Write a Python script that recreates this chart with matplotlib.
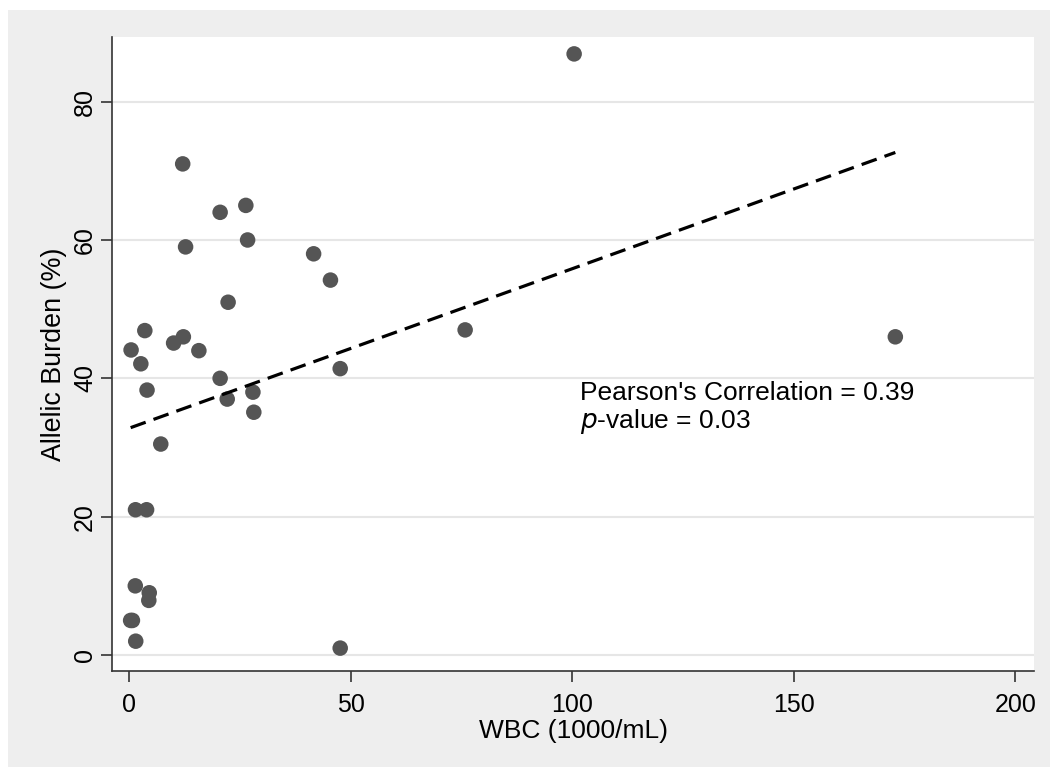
import matplotlib
matplotlib.use("Agg")
import matplotlib.pyplot as plt
from matplotlib.patches import Rectangle
import numpy as np

plt.rcParams['font.family'] = ['Liberation Sans', 'DejaVu Sans']

# Data
wbc = [0.4, 3.5, 2.6, 4.0, 10.0, 12.2, 15.7, 20.5, 22.1, 27.9, 28.1, 47.6,
       7.1, 1.4, 3.9, 1.35, 4.5, 4.4, 0.3, 0.7, 1.45, 47.6, 22.3, 12.05,
       26.3, 20.5, 12.7, 26.7, 41.6, 45.4, 75.8, 100.4, 172.9]
burden = [44.1, 46.9, 42.1, 38.3, 45.1, 46.0, 44.0, 40.0, 37.0, 38.0, 35.1, 41.4,
          30.5, 21.0, 21.0, 10.0, 9.0, 7.9, 5.0, 5.0, 2.0, 1.0, 51.0, 71.0,
          65.0, 64.0, 59.0, 60.0, 58.0, 54.2, 47.0, 86.9, 46.0]
fit_intercept = 32.8
fit_slope = 0.2305
x_ticks = [0, 50, 100, 150, 200]
y_ticks = [0, 20, 40, 60, 80]
annot_lines = ["Pearson's Correlation = 0.39", r"$\mathit{p}$-value = 0.03"]

fig = plt.figure(figsize=(10.5, 7.67), dpi=100)
fig.patch.set_facecolor('white')
fig.patches.append(Rectangle((8/1050, 0), 1 - 8/1050, (767 - 10)/767,
                             transform=fig.transFigure, facecolor='#eeeeee',
                             edgecolor='none', zorder=-10))

ax = fig.add_axes([112.3/1050, (767-671)/767, (1034-112.3)/1050, (671-37.3)/767])
ax.set_facecolor('white')

ax.set_xlim(-3.84, 204.2)
ax.set_ylim(-2.31, 89.3)

for yt in y_ticks:
    ax.axhline(yt, color='#e6e6e6', lw=1.5, zorder=0)

ax.scatter(wbc, burden, s=125, color='#555555', edgecolors='none', zorder=3)

xs = np.array([min(wbc), max(wbc)])
ax.plot(xs, fit_intercept + fit_slope * xs, color='black', lw=2.3,
        dashes=(5, 2.6), zorder=4)

ax.text(101.7, 36.9, annot_lines[0], fontsize=19, va='baseline', ha='left')
ax.text(101.7, 32.8, annot_lines[1], fontsize=19, va='baseline', ha='left')

for s in ['top', 'right']:
    ax.spines[s].set_visible(False)
for s in ['left', 'bottom']:
    ax.spines[s].set_color('#333333')
    ax.spines[s].set_linewidth(1.2)

ax.set_xticks(x_ticks)
ax.set_yticks(y_ticks)
ax.tick_params(axis='both', length=8, width=1.2, color='#333333',
               labelsize=18)
ax.tick_params(axis='x', pad=8)
ax.tick_params(axis='y', labelrotation=90, pad=3)
for lab in ax.get_yticklabels():
    lab.set_va('center')

ax.set_xlabel('WBC (1000/mL)', fontsize=19, labelpad=1)
ax.set_ylabel('Allelic Burden (%)', fontsize=19.4, labelpad=4)

fig.savefig('out.png', dpi=100, facecolor=fig.get_facecolor())
